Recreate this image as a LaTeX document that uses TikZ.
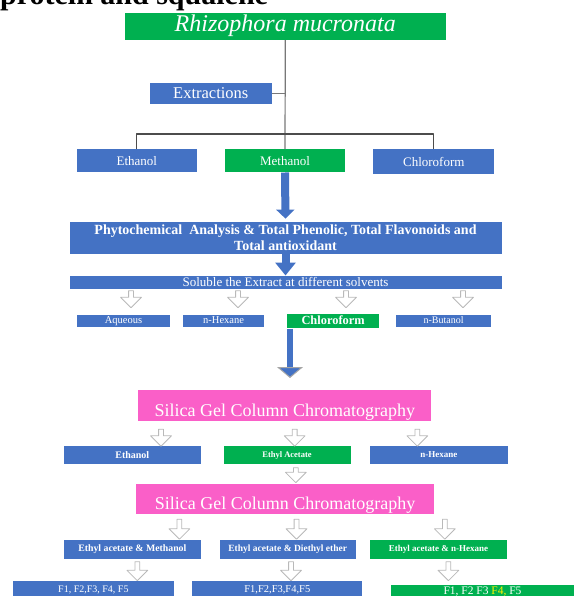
\documentclass[tikz,border=0pt]{standalone}
\usepackage{fontspec}
\setmainfont{Liberation Serif}
\usetikzlibrary{arrows.meta,shapes.arrows}
\definecolor{boxgreen}{RGB}{0,176,80}
\definecolor{boxblue}{RGB}{68,114,196}
\definecolor{boxpink}{RGB}{250,95,200}
\definecolor{linegray}{RGB}{120,120,120}

\begin{document}
\begin{tikzpicture}[x=1pt,y=-1pt,line join=round,
  bbox/.style={rectangle,fill=boxblue,text=white,inner sep=0pt,align=center},
  gbox/.style={bbox,fill=boxgreen},
  pbox/.style={bbox,fill=boxpink,text height=21pt,text depth=0pt,font=\fontsize{18}{18}\selectfont},
  small/.style={text height=7pt,text depth=2pt,font=\fontsize{#1}{#1}\selectfont},
  tree/.style={draw=linegray,line width=1.2pt},
  bigarrow/.style={draw=boxblue,line width=8pt,-{Triangle[width=18pt,length=9pt]}},
  hollow/.style={single arrow,draw=gray!55,fill=white,line width=0.8pt,shape border rotate=270,
    inner sep=2pt,single arrow head extend=8pt}]
\useasboundingbox (0,0) rectangle (574,596);
\node[anchor=base west,inner sep=0pt,font=\fontsize{30}{30}\selectfont\bfseries] (title) at (0,5) {protein and squalene};
% top of the tree
\node[gbox,minimum width=321pt,minimum height=27pt,text height=16pt,text depth=5pt,font=\fontsize{24}{24}\selectfont\itshape] (rhizo) at (285.3,26.4) {Rhizophora mucronata};
\node[bbox,minimum width=122pt,minimum height=21pt,text height=11pt,text depth=2pt,font=\fontsize{16.5}{16.5}\selectfont] (extr) at (210.8,93.7) {Extractions};
\node[bbox,minimum width=120pt,minimum height=23pt,font=\fontsize{13}{13}\selectfont] (eth1) at (136.8,160.8) {Ethanol};
\node[gbox,minimum width=120pt,minimum height=23pt,font=\fontsize{13}{13}\selectfont] (meth) at (285,160.8) {Methanol};
\node[bbox,minimum width=121pt,minimum height=25pt,font=\fontsize{13}{13}\selectfont] (chl1) at (433.8,161.7) {Chloroform};
\coordinate (split) at (285.3,134);
\draw[tree] (rhizo.south) -- (meth.north);
\draw[tree] (extr.east) -- (extr.east -| rhizo.south);
\draw[tree,draw=black!70] (eth1.north) |- (split) -| (chl1.north);
% analysis
\node[bbox,minimum width=432pt,minimum height=32pt,font=\fontsize{14}{16}\selectfont\bfseries] (phyto) at (285.5,237.8) {Phytochemical~ Analysis \& Total Phenolic, Total Flavonoids and\\Total antioxidant};
\node[bbox,minimum width=432pt,minimum height=13.6pt,text height=9pt,text depth=2pt,font=\fontsize{13}{13}\selectfont] (solub) at (285.5,282.5) {Soluble the Extract at different solvents};
\draw[bigarrow,shorten >=3pt] (meth.south) -- (phyto.north);
\draw[bigarrow,-{Triangle[width=20pt,length=13pt]}] (phyto.south) -- (solub.north);
\node[bbox,small=10.5,minimum width=93pt,minimum height=12.3pt] (aq) at (123.5,321.2) {Aqueous};
\node[bbox,small=10.5,minimum width=81pt,minimum height=12.3pt] (nhex1) at (223.6,321.2) {n-Hexane};
\node[gbox,minimum width=91.5pt,minimum height=14.3pt,text height=8.5pt,text depth=2.5pt,font=\fontsize{12.4}{12.4}\selectfont\bfseries] (chl2) at (333.1,321.2) {Chloroform};
\node[bbox,small=10,minimum width=95pt,minimum height=12pt] (nbut) at (443.6,321) {n-Butanol};
\coordinate (chltip) at (290,378);
\draw[draw=boxblue,line width=6pt,-{Triangle[width=26pt,length=11pt,fill=boxblue,color=gray!70,line width=1pt]}] (chl2.south west -| chltip) -- (chltip);
% first column
\node[pbox,minimum width=293pt,minimum height=31pt] (silica1) at (284.8,405.5) {Silica Gel Column Chromatography};
\node[bbox,minimum width=137pt,minimum height=18pt,font=\fontsize{10}{10}\selectfont\bfseries] (eth2) at (132.3,455) {Ethanol};
\node[gbox,minimum width=127pt,minimum height=18pt,font=\fontsize{8.5}{8.5}\selectfont\bfseries] (ea) at (287,455) {Ethyl Acetate};
\node[bbox,minimum width=138pt,minimum height=18pt,font=\fontsize{9}{9}\selectfont\bfseries] (nhex2) at (438.9,455) {n-Hexane};
% second column
\node[pbox,minimum width=298pt,minimum height=30.3pt] (silica2) at (285,499.2) {Silica Gel Column Chromatography};
\node[bbox,minimum width=137pt,minimum height=19pt,font=\fontsize{9.8}{9.8}\selectfont\bfseries] (eam) at (132.3,549.5) {Ethyl acetate \& Methanol};
\node[bbox,minimum width=136pt,minimum height=19pt,font=\fontsize{9.5}{9.5}\selectfont\bfseries] (ead) at (287.7,549.5) {Ethyl acetate \& Diethyl ether};
\node[gbox,minimum width=137pt,minimum height=19pt,font=\fontsize{9}{9}\selectfont\bfseries] (eah) at (438.4,549.5) {Ethyl acetate \& n-Hexane};
\node[bbox,minimum width=161pt,minimum height=18.6pt,font=\fontsize{10}{10}\selectfont] (f1) at (93.4,590) {F1, F2,F3, F4, F5};
\node[bbox,minimum width=170pt,minimum height=18.6pt,font=\fontsize{10.5}{10.5}\selectfont] (f2) at (277.3,590) {F1,F2,F3,F4,F5};
\node[gbox,minimum width=183pt,minimum height=13pt,text height=7.5pt,text depth=2pt,font=\fontsize{11.5}{11.5}\selectfont] (f3) at (482.5,591.5) {F1, F2 F3 \textcolor{yellow}{F4,} F5};
\foreach \n/\x/\y/\l in {1/131/298/17,2/238/298/17,3/346/298/17,4/463/298/17,
  5/161/436.5/17,6/294.7/436.5/17,7/417.3/436.5/17,8/295.8/474/15,
  9/179.4/528/20,10/296.5/528/20,11/444.8/528/20,
  12/137.3/570/19,13/291/570/19,14/448.4/570/19}
  {\node[hollow,minimum height=\l pt] (h\n) at (\x,\y) {};}
\end{tikzpicture}
\end{document}
